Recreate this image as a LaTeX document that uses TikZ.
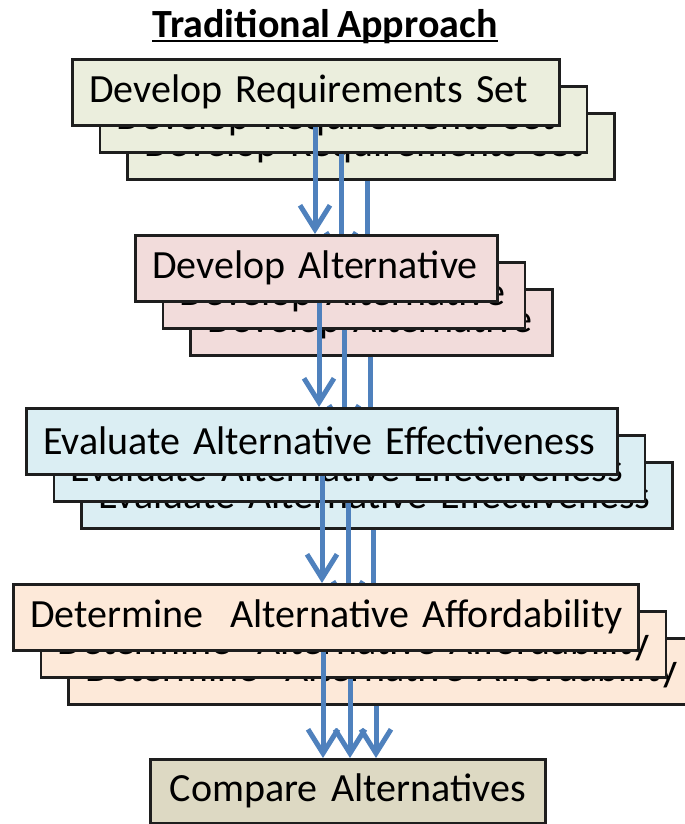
\documentclass[tikz,border=0pt]{standalone}
\usepackage{fontspec}
\setmainfont{Carlito}[WordSpace=0.7]
\usetikzlibrary{arrows.meta}
\definecolor{reqfill}{HTML}{EBEEDD}
\definecolor{altfill}{HTML}{F2DCDB}
\definecolor{evalfill}{HTML}{DBEEF3}
\definecolor{costfill}{HTML}{FDE9D9}
\definecolor{cmpfill}{HTML}{DDD9C3}
\definecolor{flowblue}{HTML}{4F81BD}
\definecolor{boxline}{HTML}{1E1E1E}

\begin{document}
\begin{tikzpicture}[>={Straight Barb[length=24bp,width=30bp]}]
      \tikzstyle{every node}=[font=\fontsize{40bp}{44bp}\selectfont]
      \tikzstyle{stepbox}=[draw=boxline, line width=2.5bp, anchor=north west, minimum height=66bp, inner xsep=17bp, inner ysep=0pt, align=left]
      \tikzstyle{flow}=[->, draw=flowblue, line width=5bp]
      \useasboundingbox (0bp,0bp) rectangle (685bp,-824bp);
      \clip (0bp,0bp) rectangle (685bp,-824bp);
      %%
  \node (title) at (325bp,-37bp) [anchor=base, inner sep=0pt, font=\fontsize{40bp}{44bp}\selectfont\bfseries] {Traditional Approach};
  \draw [line width=2.5bp] ([yshift=-4bp]title.base west) -- ([yshift=-4bp]title.base east);
  \node (cmp) at (149bp,-758bp) [stepbox, fill=cmpfill, minimum height=64bp, text width=361bp, align=center] {\mbox{Compare Alternatives}};
  %% back copy
  \node (req_3) at (126bp,-112bp) [stepbox, fill=reqfill, text width=453bp] {\mbox{Develop Requirements Set}};
  \node (alt_3) at (189bp,-288bp) [stepbox, fill=altfill, text width=328bp] {\mbox{Develop Alternative}};
  \node (eval_3) at (80bp,-461bp) [stepbox, fill=evalfill, text width=557bp] {\mbox{Evaluate Alternative Effectiveness}};
  \node (cost_3) at (67bp,-637bp) [stepbox, fill=costfill, text width=591bp] {\mbox{Determine\ \ Alternative Affordability}};
  \coordinate (x1_3) at (367bp,0bp);
  \coordinate (x2_3) at (370bp,0bp);
  \coordinate (x3_3) at (373bp,0bp);
  \coordinate (x4_3) at (376bp,0bp);
  \draw [flow] (req_3.south -| x1_3) -- (alt_3.north -| x1_3);
  \draw [flow] (alt_3.south -| x2_3) -- (eval_3.north -| x2_3);
  \draw [flow] (eval_3.south -| x3_3) -- (cost_3.north -| x3_3);
  \draw [flow] (cost_3.south -| x4_3) -- (cmp.north -| x4_3);
  %% middle copy
  \node (req_2) at (98.5bp,-85bp) [stepbox, fill=reqfill, text width=453bp] {\mbox{Develop Requirements Set}};
  \node (alt_2) at (161.5bp,-261bp) [stepbox, fill=altfill, text width=328bp] {\mbox{Develop Alternative}};
  \node (eval_2) at (52.5bp,-434bp) [stepbox, fill=evalfill, text width=557bp] {\mbox{Evaluate Alternative Effectiveness}};
  \node (cost_2) at (39.5bp,-610bp) [stepbox, fill=costfill, text width=591bp] {\mbox{Determine\ \ Alternative Affordability}};
  \coordinate (x1_2) at (341bp,0bp);
  \coordinate (x2_2) at (344bp,0bp);
  \coordinate (x3_2) at (348bp,0bp);
  \coordinate (x4_2) at (350bp,0bp);
  \draw [flow] (req_2.south -| x1_2) -- (alt_2.north -| x1_2);
  \draw [flow] (alt_2.south -| x2_2) -- (eval_2.north -| x2_2);
  \draw [flow] (eval_2.south -| x3_2) -- (cost_2.north -| x3_2);
  \draw [flow] (cost_2.south -| x4_2) -- (cmp.north -| x4_2);
  %% front copy
  \node (req_1) at (71bp,-58bp) [stepbox, fill=reqfill, text width=453bp] {\mbox{Develop Requirements Set}};
  \node (alt_1) at (134bp,-234bp) [stepbox, fill=altfill, text width=328bp] {\mbox{Develop Alternative}};
  \node (eval_1) at (25bp,-407bp) [stepbox, fill=evalfill, text width=557bp] {\mbox{Evaluate Alternative Effectiveness}};
  \node (cost_1) at (12bp,-583bp) [stepbox, fill=costfill, text width=591bp] {\mbox{Determine\ \ Alternative Affordability}};
  \coordinate (x1_1) at (315bp,0bp);
  \coordinate (x2_1) at (319bp,0bp);
  \coordinate (x3_1) at (322bp,0bp);
  \coordinate (x4_1) at (323bp,0bp);
  \draw [flow] (req_1.south -| x1_1) -- (alt_1.north -| x1_1);
  \draw [flow] (alt_1.south -| x2_1) -- (eval_1.north -| x2_1);
  \draw [flow] (eval_1.south -| x3_1) -- (cost_1.north -| x3_1);
  \draw [flow] (cost_1.south -| x4_1) -- (cmp.north -| x4_1);
%
\end{tikzpicture}
\end{document}
